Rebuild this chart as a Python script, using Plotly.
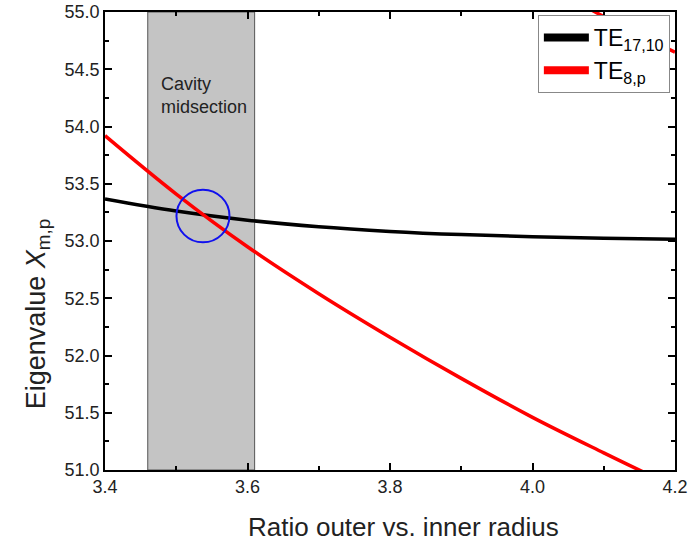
import plotly.graph_objects as go

# Data
ratio_black = [3.40, 3.50, 3.60, 3.70, 3.80, 3.90, 4.00, 4.10, 4.20]
te_17_10 = [53.367, 53.262, 53.182, 53.124, 53.084, 53.056, 53.037, 53.024, 53.015]

ratio_red = [3.40, 3.50, 3.60, 3.70, 3.80, 3.90, 4.00, 4.10, 4.20]
te_8_p = [53.92, 53.41, 52.95, 52.54, 52.16, 51.80, 51.46, 51.15, 50.85]

ratio_red2 = [4.06, 4.088, 4.15, 4.20]
te_8_p2 = [55.10, 55.00, 54.80, 54.65]

cavity_range = [3.46, 3.61]
crossing = [3.5375, 53.218]

FONT = "Liberation Sans, Arial, sans-serif"

fig = go.Figure()

# shaded cavity midsection
fig.add_shape(type="rect", xref="x", yref="y",
              x0=cavity_range[0], x1=cavity_range[1], y0=51.0, y1=55.0,
              fillcolor="#c4c4c4", line=dict(color="#555555", width=1), layer="below")

fig.add_trace(go.Scatter(x=ratio_black, y=te_17_10, mode="lines",
                         line=dict(color="black", width=3.5, shape="spline"),
                         showlegend=False, hoverinfo="skip"))
fig.add_trace(go.Scatter(x=ratio_red, y=te_8_p, mode="lines",
                         line=dict(color="red", width=3.5, shape="spline"),
                         showlegend=False, hoverinfo="skip"))
fig.add_trace(go.Scatter(x=ratio_red2, y=te_8_p2, mode="lines",
                         line=dict(color="red", width=3.5, shape="spline"),
                         showlegend=False, hoverinfo="skip"))

# legend entries
fig.add_trace(go.Scatter(x=[None], y=[None], mode="lines",
                         line=dict(color="black", width=8), name="TE<sub>17,10</sub>"))
fig.add_trace(go.Scatter(x=[None], y=[None], mode="lines",
                         line=dict(color="red", width=8), name="TE<sub>8,p</sub>"))

# circle around crossing
rx, ry = 0.0372, 0.23
fig.add_shape(type="circle", xref="x", yref="y",
              x0=crossing[0] - rx, x1=crossing[0] + rx,
              y0=crossing[1] - ry, y1=crossing[1] + ry,
              line=dict(color="#1010ee", width=2))

fig.add_annotation(x=3.476, y=54.48, xref="x", yref="y", xanchor="left", yanchor="top",
                   text="Cavity<br>midsection", showarrow=False, align="left",
                   font=dict(family=FONT, size=18, color="#222222"))

# axis titles
fig.add_annotation(x=0.523, y=-0.1245, xref="paper", yref="paper",
                   xanchor="center", yanchor="middle", showarrow=False,
                   text="Ratio outer vs. inner radius",
                   font=dict(family=FONT, size=26, color="#222222"))
fig.add_annotation(x=-0.1175, y=0.34, xref="paper", yref="paper",
                   xanchor="center", yanchor="middle", showarrow=False, textangle=-90,
                   text="Eigenvalue <i>X</i><sub>m,p</sub>",
                   font=dict(family=FONT, size=27, color="#222222"))

axis_common = dict(showline=True, linecolor="black", linewidth=1.5, mirror="allticks",
                   ticks="inside", ticklen=7, tickwidth=1.5, tickcolor="black",
                   showgrid=False, zeroline=False, automargin=False,
                   tickfont=dict(family=FONT, size=18, color="#222222"))

fig.update_xaxes(range=[3.4, 4.2], dtick=0.2, tick0=3.4, tickformat=".1f",
                 minor=dict(dtick=0.1, ticks="inside", ticklen=4, tickcolor="black", tickwidth=1.5),
                 **axis_common)
fig.update_yaxes(range=[51.0, 55.0], dtick=0.5, tick0=51.0, tickformat=".1f",
                 minor=dict(dtick=0.25, ticks="inside", ticklen=4, tickcolor="black", tickwidth=1.5),
                 **axis_common)

fig.update_layout(
    width=693, height=543,
    margin=dict(l=105, r=18, t=12, b=73),
    plot_bgcolor="white", paper_bgcolor="white",
    font=dict(family=FONT, color="#222222"),
    legend=dict(x=0.991, y=0.9935, xanchor="right", yanchor="top",
                bgcolor="white", bordercolor="#888888", borderwidth=1,
                font=dict(family=FONT, size=23, color="black"),
                itemwidth=45, tracegroupgap=0),
)

fig.write_html("out.html")
